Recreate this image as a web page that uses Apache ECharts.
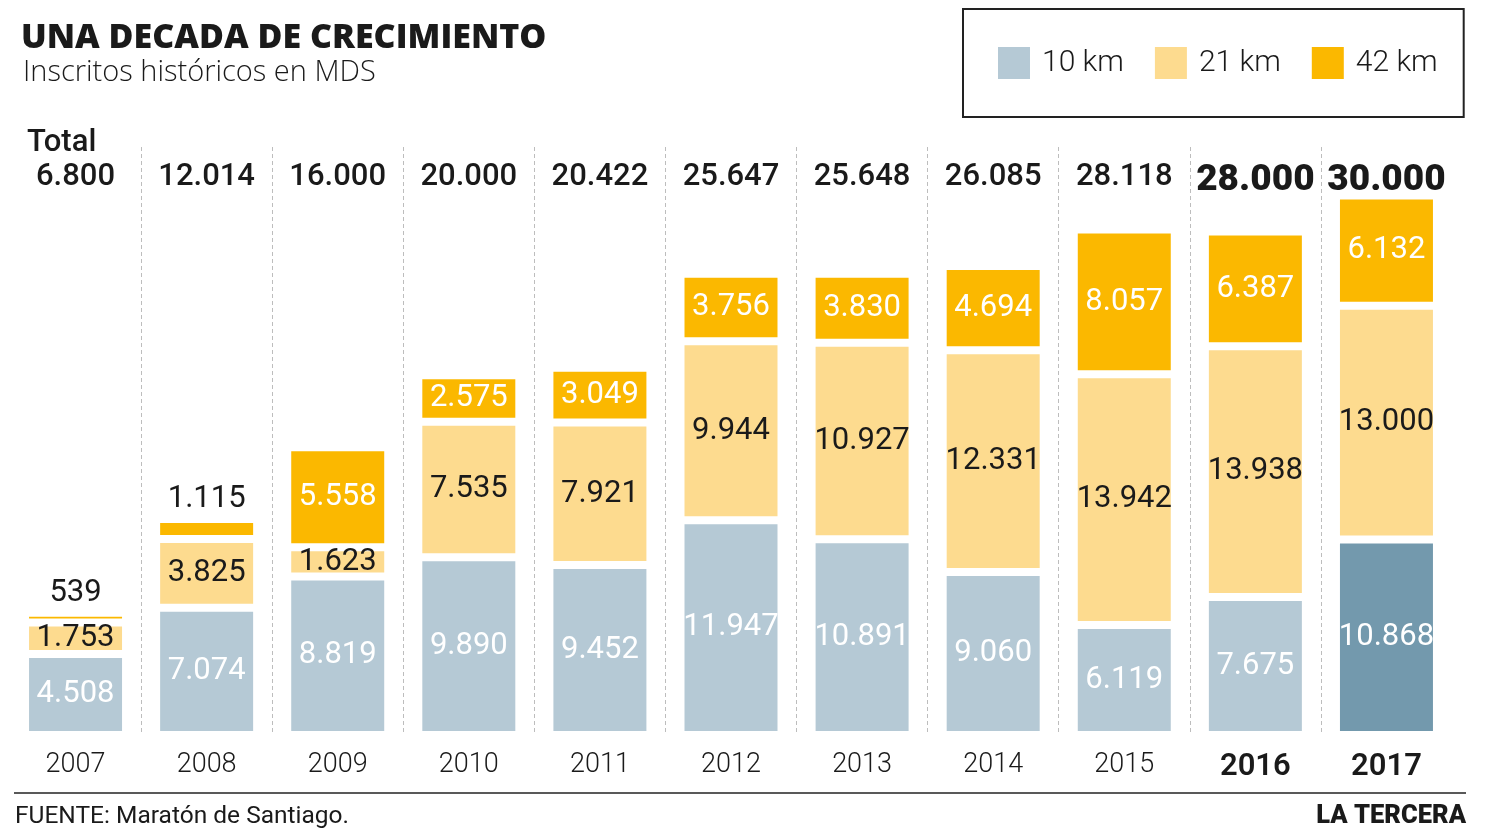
<!DOCTYPE html>
<html><head><meta charset="utf-8">
<script src="https://cdn.jsdelivr.net/npm/echarts@6/dist/echarts.min.js"></script>
<style>html,body{margin:0;padding:0;background:#fff}#c{width:1497px;height:835px}</style>
</head><body><div id="c"></div>
<script>
const years = ['2007','2008','2009','2010','2011','2012','2013','2014','2015','2016','2017'];
const km10 = [4508, 7074, 8819, 9890, 9452, 11947, 10891, 9060, 6119, 7675, 10868];
const km21 = [1753, 3825, 1623, 7535, 7921, 9944, 10927, 12331, 13942, 13938, 13000];
const km42 = [539, 1115, 5558, 2575, 3049, 3756, 3830, 4694, 8057, 6387, 6132];
const totals = [6800, 12014, 16000, 20000, 20422, 25647, 25648, 26085, 28118, 28000, 30000];
const seriesNames = ['10 km', '21 km', '42 km'];
const boldYears = ['2016', '2017'];
const highlightYear = '2017';

const C10 = '#b5c9d5', C10dark = '#7399ad', C21 = '#fddb8f', C42 = '#fbb800', INK = '#1a1a1a';
const FONT = 'Roboto';
const fmt = n => String(n).replace(/\B(?=(\d{3})+(?!\d))/g, '.');

const chart = echarts.init(document.getElementById('c'), null, {renderer: 'canvas'});

const baseBar = {
  type: 'bar', stack: 'total', barWidth: 101,
  emphasis: {disabled: true},
  label: {show: true, position: 'inside', fontFamily: FONT, fontSize: 31, fontWeight: 400,
          formatter: p => fmt(p.value)}
};

const option = {
  backgroundColor: '#fff',
  animation: false,
  textStyle: {fontFamily: FONT},
  title: [
    {text: 'UNA DECADA DE CRECIMIENTO', left: 21, top: 21, padding: 0,
     textStyle: {fontFamily: 'Open Sans', fontWeight: 800, fontSize: 34, color: INK}},
    {text: 'Inscritos históricos en MDS', left: 23, top: 58, padding: 0,
     textStyle: {fontFamily: 'Open Sans', fontWeight: 300, fontSize: 29, color: INK}},
    {text: 'Total', left: 27, top: 128, padding: 0,
     textStyle: {fontFamily: FONT, fontWeight: 500, fontSize: 31, color: INK}},
    {text: 'FUENTE: Maratón de Santiago.', left: 15, top: 804, padding: 0,
     textStyle: {fontFamily: FONT, fontWeight: 400, fontSize: 24.5, color: INK}},
    {text: 'LA TERCERA', right: 31, top: 804, padding: 0,
     textStyle: {fontFamily: FONT, fontWeight: 900, fontSize: 25.5, color: INK}}
  ],
  legend: {
    left: 963, top: 9, padding: [36, 26, 36, 33],
    borderColor: '#222', borderWidth: 2,
    itemWidth: 34, itemHeight: 34, itemGap: 29, icon: 'rect',
    textStyle: {fontFamily: FONT, fontSize: 30, fontWeight: 300, color: INK, padding: [0, 0, 0, 6]},
    data: seriesNames
  },
  graphic: [
    {type: 'line', shape: {x1: 14, y1: 793, x2: 1466, y2: 793}, style: {stroke: '#222', lineWidth: 1.5}}
  ],
  grid: {left: 10, right: 45, top: 147, bottom: 100},
  xAxis: [
    {type: 'category', data: years, position: 'bottom',
     axisLine: {show: false}, axisTick: {show: false},
     splitLine: {show: true, showMinLine: false, showMaxLine: false,
                 lineStyle: {color: '#bdbdbd', type: [4, 3], width: 1}},
     axisLabel: {interval: 0, margin: 17, fontFamily: FONT, fontSize: 27, fontWeight: 300, color: INK,
                 formatter: v => boldYears.includes(v) ? '{b|' + v + '}' : v,
                 rich: {b: {fontFamily: FONT, fontSize: 31, fontWeight: 600, color: INK}}}},
    {type: 'category', data: totals.map(fmt), position: 'top',
     axisLine: {show: false}, axisTick: {show: false}, splitLine: {show: false},
     axisLabel: {interval: 0, inside: true, margin: 15, fontFamily: FONT, fontSize: 31, fontWeight: 500, color: INK,
                 formatter: (v, i) => boldYears.includes(years[i]) ? '{b|' + v + '}' : v,
                 rich: {b: {fontFamily: FONT, fontSize: 37, fontWeight: 900, color: INK}}}}
  ],
  yAxis: {type: 'value', min: 0, max: 32700, show: false},
  series: [
    Object.assign({}, baseBar, {
      name: seriesNames[0], color: C10,
      itemStyle: {color: C10, borderColor: '#fff', borderWidth: 4},
      label: Object.assign({}, baseBar.label, {color: '#fff'}),
      data: km10.map((v, i) => years[i] === highlightYear ? {value: v, itemStyle: {color: C10dark}} : v)
    }),
    Object.assign({}, baseBar, {
      name: seriesNames[1], color: C21,
      itemStyle: {color: C21, borderColor: '#fff', borderWidth: 4},
      label: Object.assign({}, baseBar.label, {color: INK}),
      data: km21
    }),
    Object.assign({}, baseBar, {
      name: seriesNames[2], color: C42,
      itemStyle: {color: C42, borderColor: '#fff', borderWidth: 4},
      label: Object.assign({}, baseBar.label, {color: '#fff'}),
      data: km42.map(v => v < 2000 ? {value: v, label: {position: 'top', color: INK, distance: 4}} : v)
    })
  ]
};
chart.setOption(option);
</script></body></html>
